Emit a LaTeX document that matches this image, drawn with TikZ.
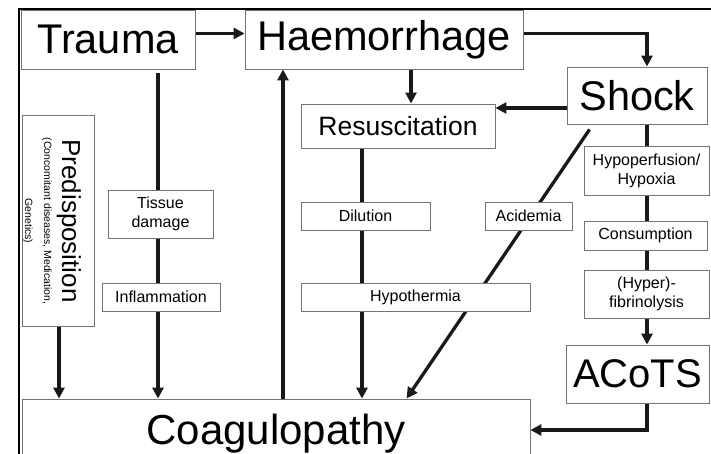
\documentclass[tikz,border=0pt]{standalone}
\usepackage{fontspec}
\setmainfont{Liberation Sans}
\usetikzlibrary{arrows.meta,positioning,calc,backgrounds}
\tikzset{
  bigbox/.style={draw=black!55,line width=0.9pt,fill=white,inner sep=0pt,font=\fontsize{41.5}{44}\selectfont},
  midbox/.style={bigbox,font=\fontsize{26.5}{28}\selectfont},
  smallbox/.style={draw=black!55,line width=0.9pt,fill=white,inner sep=0pt,align=center,font=\fontsize{16}{19}\selectfont},
  flow/.style={-{Triangle[length=11pt,width=11pt]},line width=3.3pt,draw=black!90},
  frame/.style={line width=2pt,draw=black}
}

\begin{document}
\begin{tikzpicture}[x=1pt,y=-1pt]
  \useasboundingbox (0,0) rectangle (711,454);
  \draw[frame] (19,454) -- (19,9) -- (711,9);

  % column guides
  \coordinate (colP) at (59,0);
  \coordinate (colT) at (158,0);
  \coordinate (colU) at (283,0);
  \coordinate (colR) at (362,0);
  \coordinate (colH) at (411,0);
  \coordinate (colS) at (647,0);

  % top row
  \node[bigbox,minimum width=174pt,minimum height=59pt] (trauma) at (108,39.5) {Trauma};
  \node[bigbox,minimum width=278pt,minimum height=59pt] (haem) at (384,39.5) {Haemorrhage};
  \node[bigbox,minimum width=140pt,minimum height=57pt] (shock) at (637,95.5) {Shock};
  \node[midbox,minimum width=194pt,minimum height=44pt] (resus) at (398,126) {Resuscitation};

  % left side
  \node[smallbox,rotate=-90,minimum width=211pt,minimum height=72pt] (predisp) at (58,221)
    {\strut\\[-8pt]
     \fontsize{26}{28}\selectfont Predisposition\\[-1pt]
     \fontsize{10.5}{12}\selectfont (Concomitant diseases, Medication,\\[0pt]
     \fontsize{10.5}{12}\selectfont Genetics)};
  \node[smallbox,minimum width=105pt,minimum height=48pt] (tissue) at (160.5,214) {Tissue\\ damage};
  \node[smallbox,minimum width=118pt,minimum height=28pt] (inflam) at (161,297) {Inflammation};

  % middle
  \node[smallbox,minimum width=129pt,minimum height=28pt] (dilution) at (365.5,216) {Dilution};
  \node[smallbox,minimum width=229pt,minimum height=28pt] (hypoth) at (415.5,297) {Hypothermia};
  \node[smallbox,minimum width=87pt,minimum height=28pt] (acid) at (528.5,216) {Acidemia};

  % right column
  \node[smallbox,minimum width=125pt,minimum height=49pt] (hypo) at (646.5,170.5) {Hypoperfusion/\\ Hypoxia};
  \node[smallbox,minimum width=123pt,minimum height=29pt] (consum) at (645.5,235.5) {Consumption};
  \node[smallbox,minimum width=125pt,minimum height=48pt] (fibrin) at (646.5,294) {(Hyper)-\\ fibrinolysis};
  \node[bigbox,font=\fontsize{40}{44}\selectfont,minimum width=143pt,minimum height=58pt] (acots) at (637.5,374) {ACoTS};

  % bottom
  \node[bigbox,font=\fontsize{42}{46}\selectfont,minimum width=508pt,minimum height=70pt] (coag) at (276,434) {Coagulopathy};

  % connectors
  \begin{scope}[on background layer]
    \draw[flow] ($(trauma.east)+(0,-6)$) -- ($(haem.west)+(0,-6)$);
    \draw[flow] ($(haem.east)+(0,-6)$) -| (shock.north -| colS);
    \draw[flow] (haem.south -| colH) -- (resus.north -| colH);
    \draw[flow] ($(shock.west)+(0,12.5)$) -- ($(resus.east)+(0,-18)$);
    \draw[flow] (predisp.east -| colP) -- (coag.north -| colP);
    \draw[flow] ($(trauma.south -| colT)+(0,4)$) -- (coag.north -| colT);
    \draw[flow] (coag.north -| colU) -- (haem.south -| colU);
    \draw[flow] (resus.south -| colR) -- (coag.north -| colR);
    \draw[flow] ($(shock.south west)+(23,5)$) -- ($(coag.north west)+(385,0)$);
    \draw[flow] (shock.south -| colS) -- (acots.north -| colS);
    \draw[flow] (acots.south -| colS) |- ($(coag.east)+(0,-4)$);
  \end{scope}
\end{tikzpicture}
\end{document}
